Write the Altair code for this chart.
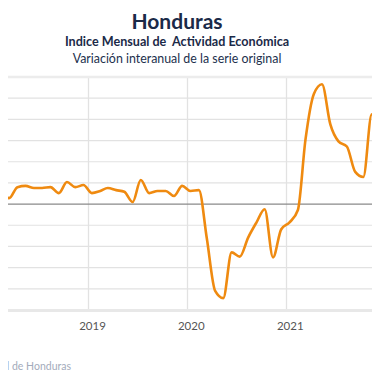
import altair as alt
import pandas as pd

months = pd.date_range("2018-01-01", periods=49, freq="MS") + pd.Timedelta(days=14)
values_2018 = [4.3, 3.3, 1.4, 4.0, 4.3, 3.8, 3.8, 4.0, 2.6, 5.2, 4.0, 4.5]
values_2019 = [2.6, 3.1, 3.8, 3.3, 2.9, 0.5, 5.7, 2.6, 3.1, 3.1, 1.9, 4.3]
values_2020 = [3.1, 3.3, -8.0, -20.5, -22.2, -11.4, -12.4, -7.9, -4.3, -1.2, -12.6, -6.0]
values_2021 = [-4.3, -1.4, 15.2, 26.0, 28.3, 18.8, 14.8, 13.6, 7.6, 6.4, 21.2, 9.3]
values_2022 = [6.0]
grid_values = [-20, -15, -10, -5, 5, 10, 15, 20, 25]

title_text = "Honduras"
subtitle_text = "Indice Mensual de\u00a0 Actividad Económica"
subtitle2_text = "Variación interanual de la serie original"
source_text = "Fuente: Banco Central de Honduras"

vals = values_2018 + values_2019 + values_2020 + values_2021 + values_2022
df = pd.DataFrame({"fecha": [d.strftime("%Y-%m-%d") for d in months], "var": vals})

W, H = 364, 233
FONT = "Lato"

xscale = alt.Scale(domain=["2018-03-11", "2021-11-16"], nice=False)
yscale = alt.Scale(domain=[-25, 30], nice=False)

grid = alt.Chart(pd.DataFrame({"g": grid_values})).mark_rule(
    color="#e2e2e2", strokeWidth=1.2
).encode(y=alt.Y("g:Q", scale=yscale, axis=None))

line = alt.Chart(df).mark_line(
    color="#ef8a10", strokeWidth=2.6, interpolate="monotone", clip=True
).encode(
    x=alt.X("fecha:T", scale=xscale, title=None,
            axis=alt.Axis(tickCount={"interval": "year", "step": 1}, format="%Y",
                          grid=True, gridColor="#e2e2e2", gridWidth=1.3,
                          domain=False, ticks=False, labelFlush=False,
                          labelOffset=4, labelPadding=10, labelFontSize=11.5,
                          labelColor="#555555", labelFont=FONT)),
    y=alt.Y("var:Q", scale=yscale, title=None, axis=None),
)

zero = alt.Chart(pd.DataFrame({"z": [0]})).mark_rule(
    color="#8a8a8a", strokeWidth=1.3
).encode(y=alt.Y("z:Q", scale=yscale, axis=None))

top_border = alt.Chart(pd.DataFrame({"a": [0]})).mark_rule(
    color="#ececec", strokeWidth=2.5
).encode(x=alt.value(0), x2=alt.value(W), y=alt.value(0))

bottom_border = alt.Chart(pd.DataFrame({"a": [0]})).mark_rule(
    color="#e8e8e8", strokeWidth=3
).encode(x=alt.value(0), x2=alt.value(W), y=alt.value(H + 0.5))

def label(text, x, y, size, weight, color, align="center"):
    return alt.Chart(pd.DataFrame({"t": [text]})).mark_text(
        font=FONT, fontSize=size, fontWeight=weight, color=color,
        align=align, baseline="alphabetic"
    ).encode(text="t:N", x=alt.value(x), y=alt.value(y))

t1 = label(title_text, 169, -48, 21, "bold", "#1b2a48")
t2 = label(subtitle_text, 169, -31, 12.6, "bold", "#1b2a48")
t3 = label(subtitle2_text, 169, -14.5, 12.4, "normal", "#22304d")
src = label(source_text, 63, 293, 10.5, "normal", "#a3abbb", align="right")

chart = alt.layer(grid, top_border, bottom_border, zero, line, t1, t2, t3, src).properties(
    width=W, height=H,
    autosize=alt.AutoSizeParams(type="none"),
    padding={"left": 0, "top": 69, "right": 0, "bottom": 62},
).configure_view(stroke=None)

chart.save("out.html", embed_options={"renderer": "svg", "actions": False})
